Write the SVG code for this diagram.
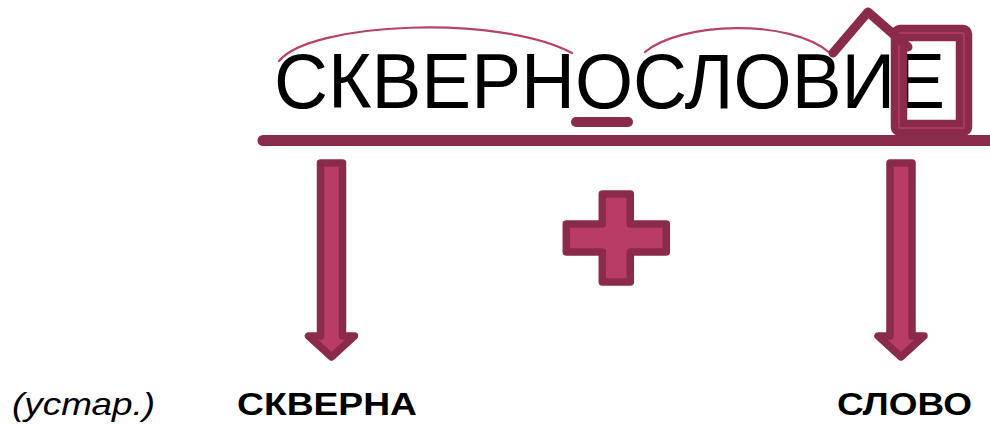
<svg xmlns="http://www.w3.org/2000/svg" width="990" height="425" viewBox="0 0 990 425">
<style>
.word{font-family:"Liberation Sans",Arial,sans-serif;font-size:78px;fill:#000}
.lbl{font-family:"Liberation Sans",Arial,sans-serif;font-size:32px;font-weight:bold;fill:#000}
.note{font-family:"Liberation Sans",Arial,sans-serif;font-size:32px;font-style:italic;fill:#000}
.shape{fill:#b93c66;stroke:#8b2b4b;stroke-width:7.5;stroke-linejoin:round}
.dark{stroke:#8b2b4b;fill:none;stroke-linecap:round;stroke-linejoin:round}
.arc{stroke:#b8416c;stroke-width:2.2;fill:none;stroke-linecap:round}
</style>
<rect width="990" height="425" fill="#fff"/>
<g id="word">
<text class="word" x="274" y="108" textLength="671" lengthAdjust="spacingAndGlyphs">СКВЕРНОСЛОВИЕ</text>
</g>
<g id="morphemes">
<path class="arc" d="M279,61 C310,22 500,14 572,53"/>
<path class="arc" d="M645,52 C680,22 790,18 830,53"/>
<line class="dark" x1="576" y1="122" x2="628" y2="122" stroke-width="10"/>
<line class="dark" x1="263" y1="140.5" x2="1000" y2="140.5" stroke-width="11"/>
<rect x="899" y="33" width="65" height="95" rx="1" fill="none" stroke="#8b2b4b" stroke-width="16.5"/>
<rect x="899" y="33" width="65" height="95" rx="1" fill="none" stroke="#b93c66" stroke-width="1.5"/>
<polyline class="dark" points="833,53 868,12 908,47" stroke-width="9"/>
</g>
<g id="connectors">
<polygon class="shape" points="320.5,163 342.5,163 342.5,336 354.5,336 331.5,357 308.5,336 320.5,336"/>
<polygon class="shape" points="890,163 912,163 912,336 924,336 901,357 878,336 890,336"/>
</g>
<g id="plus">
<polygon class="shape" stroke-width="8" points="602.3,194 630.3,194 630.3,224 666.3,224 666.3,252 630.3,252 630.3,282 602.3,282 602.3,252 566.3,252 566.3,224 602.3,224"/>
</g>
<g id="note"><text class="note" x="12" y="415" textLength="143" lengthAdjust="spacingAndGlyphs">(устар.)</text></g>
<g id="skverna"><text class="lbl" x="237" y="415" textLength="180" lengthAdjust="spacingAndGlyphs">СКВЕРНА</text></g>
<g id="slovo"><text class="lbl" x="837" y="415" textLength="135" lengthAdjust="spacingAndGlyphs">СЛОВО</text></g>
</svg>
